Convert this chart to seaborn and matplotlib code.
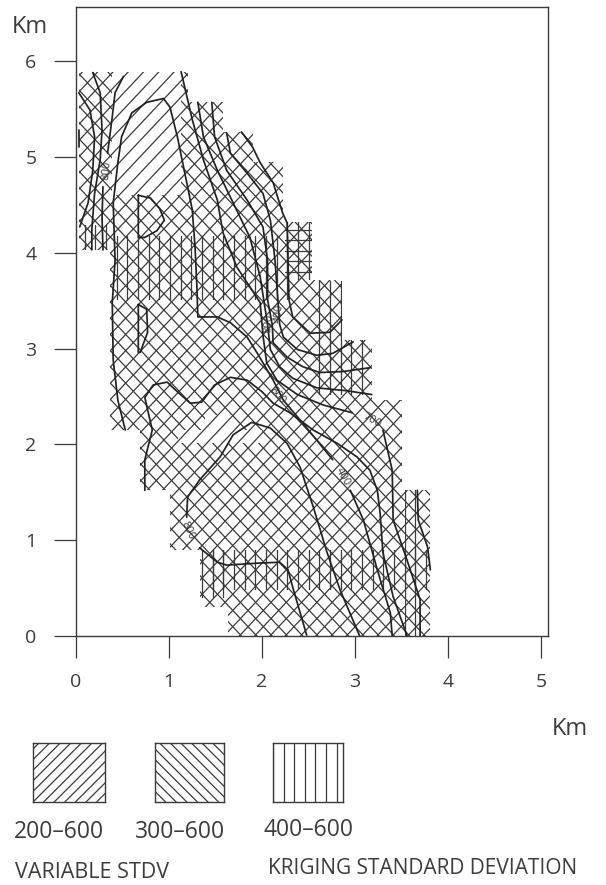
import numpy as np
import seaborn as sns
import matplotlib
import matplotlib.pyplot as plt
from matplotlib.patches import Polygon
from matplotlib.collections import LineCollection

matplotlib.use('Agg')

# mapped area and hatch zones, km
area = [(.03, 5.89), (1.20, 5.89), (1.20, 5.57), (1.58, 5.57), (1.58, 5.26), (1.90, 5.26), (1.90, 4.95),
        (2.23, 4.95), (2.23, 4.32), (2.54, 4.32), (2.54, 3.72), (2.86, 3.72), (2.86, 3.09), (3.18, 3.09),
        (3.18, 2.46), (3.50, 2.46), (3.50, 1.52), (3.81, 1.52), (3.81, 0), (1.63, 0), (1.63, .30), (1.33, .30),
        (1.33, .90), (1.01, .90), (1.01, 1.52), (.69, 1.52), (.69, 2.15), (.37, 2.15), (.37, 4.03), (.03, 4.03)]
hole_top = [(.39, 5.89), (1.13, 5.89), (1.13, 4.60), (.39, 4.60)]
hole_mid = [(1.10, 2.01), (2.00, 2.01), (2.00, 2.15), (1.68, 2.15), (1.68, 2.31), (1.39, 2.31), (1.39, 2.15), (1.10, 2.15)]
vert_zones = [
    [(.03, 4.29), (.39, 4.29), (.39, 4.03), (.03, 4.03)],
    [(.42, 4.17), (2.30, 4.17), (2.30, 3.51), (.42, 3.51)],
    [(2.23, 4.32), (2.54, 4.32), (2.54, 3.72), (2.23, 3.72)],
    [(2.54, 3.70), (2.86, 3.70), (2.86, 2.52), (2.54, 2.52)],
    [(2.86, 3.09), (3.18, 3.09), (3.18, 2.52), (2.86, 2.52)],
    [(1.39, .90), (3.81, .90), (3.81, .48), (1.39, .48)],
    [(1.33, .90), (1.65, .90), (1.65, .40), (1.33, .40)],
    [(3.54, 1.52), (3.70, 1.52), (3.70, 0), (3.54, 0)],
]
horiz_zone = [(2.25, 4.26), (2.54, 4.26), (2.54, 3.77), (2.25, 3.77)]

# contour lines, km
contours = {
    'c1': [(.53, 2.15), (.45, 2.46), (.40, 2.88), (.39, 3.48), (.42, 3.92), (.40, 4.52), (.45, 4.94), (.49, 5.21),
           (.60, 5.46), (.76, 5.57), (.94, 5.61), (1.01, 5.52), (1.09, 5.21), (1.17, 4.83), (1.25, 4.45), (1.28, 4.06),
           (1.30, 3.64), (1.31, 3.33), (1.52, 3.33), (1.66, 3.27), (1.84, 3.12), (1.95, 2.95), (2.12, 2.67), (2.23, 2.46),
           (2.44, 2.22), (2.76, 1.84)],
    'c1b': [(2.95, 1.52), (3.09, 1.21), (3.24, .69), (3.38, .24), (3.40, 0)],
    'c2': [(.74, 1.52), (.74, 1.84), (.82, 2.15), (.77, 2.36), (.74, 2.49), (.83, 2.62), (.98, 2.65), (1.10, 2.54),
           (1.23, 2.43), (1.35, 2.44), (1.49, 2.62), (1.66, 2.70), (1.84, 2.67), (2.00, 2.55), (2.12, 2.43), (2.30, 2.33),
           (2.55, 2.15), (2.81, 2.01), (3.02, 1.87), (3.16, 1.73), (3.24, 1.52), (3.27, 1.28), (3.30, .87), (3.41, .41),
           (3.56, 0)],
    'c3': [(1.19, 1.24), (1.20, 1.45), (1.33, 1.63), (1.55, 1.87), (1.69, 2.10), (1.89, 2.23), (2.09, 2.17), (2.27, 2.01),
           (2.41, 1.76), (2.55, 1.35), (2.70, .87), (2.84, .48), (3.05, 0)],
    'c3b': [(1.33, .92), (1.52, .77), (1.62, .74), (1.95, .76), (2.19, .77), (2.28, .69), (2.33, .51), (2.48, .01)],
    'l1': [(1.13, 5.89), (1.25, 5.39), (1.37, 4.97), (1.52, 4.55), (1.58, 4.21), (1.73, 3.85), (1.98, 3.48), (2.01, 3.14),
           (2.05, 2.85), (2.16, 2.67), (2.38, 2.52), (2.66, 2.41), (2.97, 2.33)],
    'l1b': [(3.30, 2.15), (3.40, 1.73), (3.41, 1.21), (3.56, .79), (3.70, .38), (3.70, 0)],
    'l2': [(1.31, 5.57), (1.37, 5.21), (1.52, 4.86), (1.69, 4.52), (1.87, 4.16), (1.98, 3.75), (2.06, 3.25), (2.09, 2.99),
           (2.19, 2.81), (2.33, 2.69), (2.59, 2.59), (2.91, 2.56), (3.18, 2.52)],
    'l3': [(1.46, 5.57), (1.49, 5.21), (1.62, 4.86), (1.84, 4.55), (2.01, 4.27), (2.06, 3.92), (2.06, 3.51), (2.11, 3.25),
           (2.12, 3.06), (2.27, 2.91), (2.44, 2.81), (2.62, 2.75), (2.87, 2.76), (3.16, 2.80)],
    'l4': [(1.62, 5.25), (1.66, 5.04), (1.84, 4.83), (2.01, 4.62), (2.09, 4.34), (2.14, 3.92), (2.17, 3.51), (2.19, 3.25),
           (2.23, 3.12), (2.38, 2.99), (2.59, 2.93), (2.76, 2.95), (2.98, 3.07)],
    'l5': [(1.78, 5.26), (1.90, 5.10), (1.98, 4.94), (2.12, 4.73), (2.22, 4.42), (2.27, 4.31), (2.29, 3.51), (2.33, 3.33),
           (2.52, 3.16), (2.73, 3.17), (2.86, 3.30)],
    't1': [(.03, 5.28), (.03, 5.10)],
    't2': [(.03, 5.67), (.15, 5.49), (.20, 5.21), (.18, 4.86), (.13, 4.52), (.04, 4.27)],
    't3': [(.18, 5.88), (.26, 5.67), (.28, 5.28), (.26, 4.97), (.20, 4.62), (.17, 4.24), (.17, 4.03)],
    't4': [(.51, 5.84), (.42, 5.67), (.39, 5.42), (.34, 5.04)],
    't4b': [(.29, 4.69), (.28, 4.37), (.29, 4.03)],
    'r1': [(3.67, 1.52), (3.68, 1.21), (3.78, .93), (3.81, .69)],
    'd1': [(.67, 4.60), (.80, 4.57), (.90, 4.46), (.95, 4.34), (.87, 4.23), (.74, 4.16), (.67, 4.16), (.67, 4.60)],
    'd2': [(.67, 3.46), (.76, 3.41), (.77, 3.17), (.69, 2.96), (.67, 2.96), (.67, 3.46)],
}
contour_labels = [('800', .33, 4.86, 85), ('800', 2.17, 2.51, -50), ('400', 2.87, 1.66, -60), ('700', 3.18, 2.25, -30),
                  ('800', 1.20, 1.10, -65), ('800', 2.07, 3.26, 85), ('400', 2.18, 3.37, 85)]

x_ticks = [0, 1, 2, 3, 4, 5]
y_ticks = [0, 1, 2, 3, 4, 5, 6]
legend_labels = ['200\u2013600', '300\u2013600', '400\u2013600']

W, H = 606, 885
INK = '#3a3a3a'


def hatch(ax, poly, kind, step, x0=0.0, slope=1.0, lw=0.9):
    patch = Polygon(poly, closed=True, fc='none', ec='none')
    ax.add_patch(patch)
    xa, xb = ax.get_xlim()
    ya, yb = ax.get_ylim()
    segs = []
    if kind == '|':
        for x in np.arange(x0 + np.floor((xa - x0) / step) * step, xb + step, step):
            segs.append([(x, ya), (x, yb)])
    elif kind == '-':
        for y in np.arange(x0 + np.floor((ya - x0) / step) * step, yb + step, step):
            segs.append([(xa, y), (xb, y)])
    else:
        s = slope if kind == '/' else -slope
        span = (yb - ya) / slope
        for x in np.arange(x0 + np.floor((xa - span - x0) / step) * step, xb + span + step, step):
            segs.append([(x, 0), (x + (yb + 1) / s, yb + 1)])
            segs.append([(x, 0), (x + (ya - 1) / s, ya - 1)])
    lc = LineCollection(segs, colors=INK, linewidths=lw)
    ax.add_collection(lc, autolim=False)
    lc.set_clip_path(patch)


sns.set_style('white')
plt.rcParams['font.family'] = ['Open Sans', 'DejaVu Sans']
fig = plt.figure(figsize=(W / 100, H / 100), dpi=100)


def px_text(x, y, s, size=14, ha='center'):
    fig.text(x / W, 1 - y / H, s, fontsize=size, ha=ha, va='center', color='#3c3c3c')


ax = fig.add_axes([76 / W, 1 - 636 / H, 472 / W, 629 / H])
ax.set_xlim(0, 5.075)
ax.set_ylim(0, 6.565)
slope = 95.8 / 93

hatch(ax, area, '\\', 0.1645, x0=0.135, slope=slope)
ax.fill(*zip(*hole_top), color='white', lw=0, zorder=2.01)
ax.fill(*zip(*hole_mid), color='white', lw=0, zorder=2.01)
for c in ax.collections:
    c.set_zorder(2)
hatch(ax, area, '/', 0.1645, x0=-5.318, slope=slope)
ax.collections[-1].set_zorder(2.5)
for zone in vert_zones:
    hatch(ax, zone, '|', 0.1147, x0=1.47)
    ax.collections[-1].set_zorder(2.5)
hatch(ax, horiz_zone, '-', 0.11, x0=3.80)
ax.collections[-1].set_zorder(2.5)

for name, pts in contours.items():
    xs, ys = zip(*pts)
    sns.lineplot(x=list(xs), y=list(ys), sort=False, estimator=None, color='#222222', lw=1.25, ax=ax, zorder=3)
for s, x, y, rot in contour_labels:
    ax.text(x, y, s, fontsize=8, rotation=rot, ha='center', va='center', color='#333333', zorder=4)

ax.set_xticks(x_ticks)
ax.set_yticks(y_ticks)
ax.tick_params(axis='both', length=15.5, width=0.9, color=INK, labelsize=14, labelcolor='#3c3c3c', left=True, bottom=True)
ax.tick_params(axis='x', pad=11)
ax.tick_params(axis='y', pad=13)
for sp in ax.spines.values():
    sp.set_color(INK)
    sp.set_linewidth(1.0)

px_text(30, 27, 'Km', size=17)
px_text(570, 729, 'Km', size=17)

# legend boxes
boxes = [(33, 743, 72, 59, '/'), (155, 743, 69, 59, '\\'), (273, 743, 70, 59, '|')]
for (bx, by, bw, bh, kind), lab, tx, ty in zip(boxes, legend_labels, [59, 180, 308], [832, 832, 830]):
    lax = fig.add_axes([bx / W, 1 - (by + bh) / H, bw / W, bh / H])
    lax.set_xlim(0, bw)
    lax.set_ylim(0, bh)
    lax.set_xticks([])
    lax.set_yticks([])
    hatch(lax, [(0, 0), (bw, 0), (bw, bh), (0, bh)], kind, 10.6, x0=0.0)
    for sp in lax.spines.values():
        sp.set_color(INK)
        sp.set_linewidth(1.0)
    px_text(tx, ty, lab, size=16.5)

px_text(92, 873, 'VARIABLE STDV', size=15.5)
px_text(423, 869, 'KRIGING STANDARD DEVIATION', size=15)

fig.savefig('out.png', dpi=100, facecolor='white')
